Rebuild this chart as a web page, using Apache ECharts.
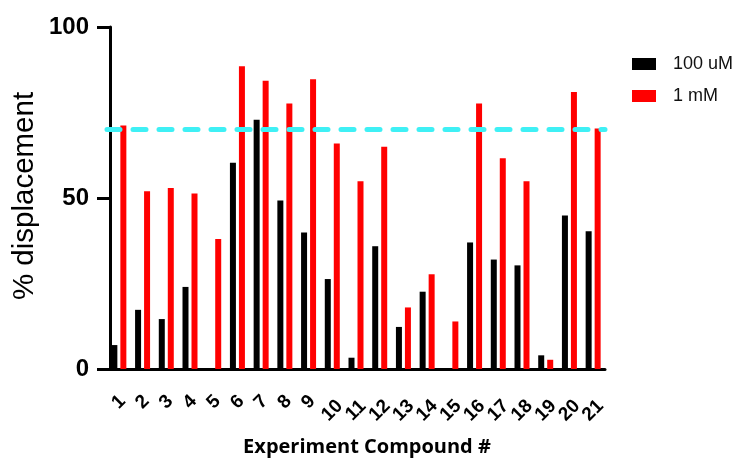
<!DOCTYPE html>
<html>
<head>
<meta charset="utf-8">
<script src="https://cdn.jsdelivr.net/npm/echarts@6/dist/echarts.min.js"></script>
<style>
  html, body { margin: 0; padding: 0; background: #fff; }
  #chart { width: 739px; height: 462px; }
</style>
</head>
<body>
<div id="chart"></div>
<script>
// compounds 1..21
var compounds = ['1', '2', '3', '4', '5', '6', '7', '8', '9', '10', '11',
                 '12', '13', '14', '15', '16', '17', '18', '19', '20', '21']
var dose100uM = [7, 17.3, 14.6, 24, 0, 60.3, 72.9, 49.3, 39.9, 26.3, 3.3,
                 35.9, 12.3, 22.6, 0, 37, 32, 30.3, 4, 44.9, 40.3]
var dose1mM = [71.2, 52, 52.9, 51.3, 38, 88.5, 84.3, 77.6, 84.7, 65.9, 54.9,
               65, 18, 27.7, 13.9, 77.6, 61.6, 54.9, 2.7, 81, 70.3]
var yTicks = [0, 50, 100]
var threshold = 70

var chart = echarts.init(document.getElementById('chart'), null, { renderer: 'canvas' })

var arial = 'Liberation Sans'
var tickFont = { fontFamily: arial, fontWeight: 'bold', fontSize: 19, color: '#000' }

chart.setOption({
    animation: false,
    backgroundColor: '#fff',
    grid: {
        left: 107,
        right: 134,
        top: 27,
        bottom: 89,
        containLabel: false
    },
    // y axis title, placed by hand (axis name kept snapping to the edge)
    graphic: [{
        type: 'text',
        x: 25,
        y: 196,
        rotation: Math.PI / 2,
        style: {
            text: '% displacement',
            align: 'center',
            verticalAlign: 'middle',
            font: '29.5px "Liberation Sans"',
            fill: '#000'
        }
    }],
    legend: {
        orient: 'vertical',
        left: 627,
        top: 50,
        icon: 'rect',
        itemWidth: 24,
        itemHeight: 12,
        itemGap: 14,
        textStyle: { fontFamily: arial, fontSize: 18, color: '#111', padding: [0, 0, 0, 12] },
        data: ['100 uM', '1 mM']
    },
    xAxis: {
        type: 'category',
        data: compounds,
        name: 'Experiment Compound #',
        nameLocation: 'middle',
        nameGap: 68,
        nameTextStyle: {
            fontFamily: 'Open Sans', fontWeight: 'bold', fontSize: 20, color: '#000',
            padding: [0, 0, 0, 22]
        },
        axisLine: { lineStyle: { color: '#000', width: 3 } },
        axisTick: { alignWithLabel: true, interval: 0, length: 14, lineStyle: { color: '#000', width: 3 } },
        axisLabel: {
            interval: 0,
            rotate: 45,
            align: 'center',
            verticalAlign: 'middle',
            margin: 33,
            formatter: function (v) {
                // two-digit labels sit a bit lower, like the original
                return v.length > 1 ? '{b|' + v + '}' : '{a|' + v + '}'
            },
            rich: {
                a: tickFont,
                b: Object.assign({ padding: [12, 12, 0, 0] }, tickFont)
            }
        }
    },
    yAxis: {
        type: 'value',
        min: yTicks[0],
        max: yTicks[yTicks.length - 1],
        interval: 50,
        offset: -3,
        splitLine: { show: false },
        axisLine: { show: true, lineStyle: { color: '#000', width: 3 } },
        axisTick: { show: true, length: 13, lineStyle: { color: '#000', width: 3 } },
        axisLabel: {
            margin: 21,
            fontFamily: arial,
            fontWeight: 'bold',
            fontSize: 24,
            color: '#000'
        }
    },
    series: [
        {
            name: '100 uM',
            type: 'bar',
            data: dose100uM,
            barWidth: 6,
            barGap: '50%',
            itemStyle: { color: '#000' }
        },
        {
            name: '1 mM',
            type: 'bar',
            data: dose1mM,
            barWidth: 6,
            itemStyle: { color: '#ff0000' },
            markLine: {
                silent: true,
                symbol: 'none',
                label: { show: false },
                lineStyle: { color: '#3ff0f5', width: 5, type: [13, 13], cap: 'round' },
                data: [{ yAxis: threshold }]
            }
        }
    ]
})
</script>
</body>
</html>
